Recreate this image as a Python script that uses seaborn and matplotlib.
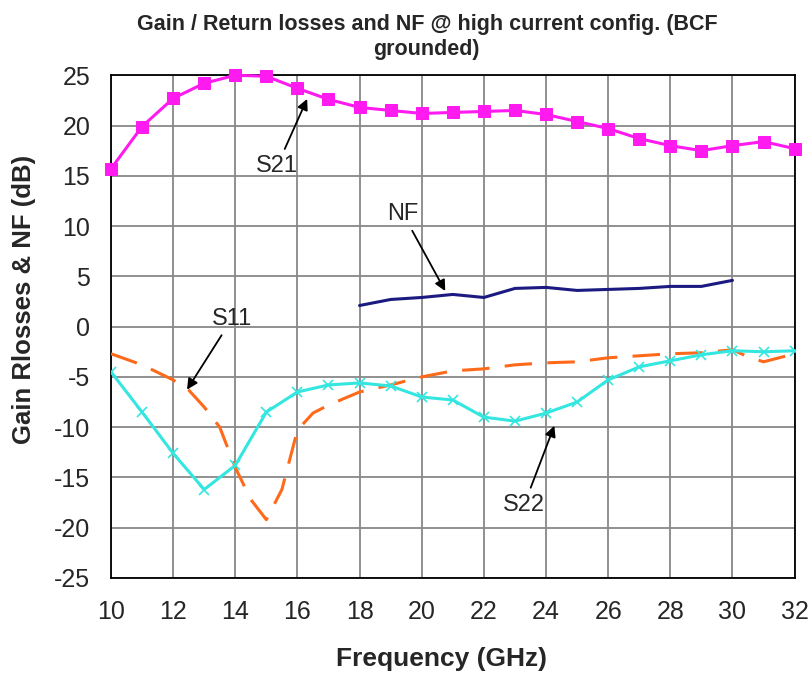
import numpy as np
import pandas as pd
import matplotlib
matplotlib.use("Agg")
import matplotlib.pyplot as plt
import seaborn as sns

# values
freq_s21 = [10, 11, 12, 13, 14, 15, 16, 17, 18, 19, 20, 21, 22, 23, 24, 25, 26, 27, 28, 29, 30, 31, 32]
s21 = [15.7, 19.9, 22.7, 24.2, 25.0, 24.9, 23.7, 22.6, 21.8, 21.5, 21.2, 21.3, 21.4, 21.5, 21.1, 20.4,
       19.7, 18.7, 18.0, 17.5, 18.0, 18.4, 17.7]

freq_s22 = [10, 11, 12, 13, 14, 15, 16, 17, 18, 19, 20, 21, 22, 23, 24, 25, 26, 27, 28, 29, 30, 31, 32]
s22 = [-4.5, -8.5, -12.6, -16.2, -13.8, -8.5, -6.5, -5.8, -5.6, -5.9, -7.0, -7.3, -9.0, -9.4, -8.6, -7.5,
       -5.3, -4.0, -3.4, -2.8, -2.4, -2.5, -2.4]

freq_s11 = [10, 11, 12, 12.5, 13, 13.5, 14, 14.5, 15, 15.5, 16, 16.5, 17, 18, 19, 20, 21, 22, 23, 24, 25,
            26, 27, 28, 29, 30, 30.5, 31, 32]
s11 = [-2.7, -3.8, -5.3, -6.3, -8.0, -10.0, -14.0, -17.2, -19.2, -16.2, -10.3, -8.6, -7.8, -6.5, -5.8,
       -5.0, -4.4, -4.2, -3.8, -3.6, -3.5, -3.1, -2.9, -2.7, -2.6, -2.3, -3.0, -3.5, -2.7]

freq_nf = [18, 19, 20, 21, 22, 23, 24, 25, 26, 27, 28, 29, 30]
nf = [2.1, 2.7, 2.9, 3.2, 2.9, 3.8, 3.9, 3.6, 3.7, 3.8, 4.0, 4.0, 4.6]

x_ticks = [10, 12, 14, 16, 18, 20, 22, 24, 26, 28, 30, 32]
y_ticks = [-25, -20, -15, -10, -5, 0, 5, 10, 15, 20, 25]

sns.set_style("white")
plt.rcParams['font.family'] = ['Liberation Sans', 'DejaVu Sans']
plt.rcParams['axes.unicode_minus'] = False

fig = plt.figure(figsize=(8.1, 6.78), dpi=100)
ax = fig.add_axes([0.137, 0.1475, 0.844, 0.7415])

df_s21 = pd.DataFrame({'f': freq_s21, 'v': s21})
df_s22 = pd.DataFrame({'f': freq_s22, 'v': s22})
df_s11 = pd.DataFrame({'f': freq_s11, 'v': s11})
df_nf = pd.DataFrame({'f': freq_nf, 'v': nf})

sns.lineplot(x='f', y='v', data=df_s11, ax=ax, color='#FF6A1A', linewidth=2.2, zorder=3)
ax.lines[-1].set_dashes([9, 5])
sns.lineplot(x='f', y='v', data=df_s22, ax=ax, color='#33E6E0', linewidth=2.2,
             marker='x', markersize=7, markeredgewidth=1.2, markeredgecolor='#33E6E0', zorder=4)
sns.lineplot(x='f', y='v', data=df_nf, ax=ax, color='#1A1A80', linewidth=2.2, zorder=4)
sns.lineplot(x='f', y='v', data=df_s21, ax=ax, color='#FF1AF0', linewidth=2.2,
             marker='s', markersize=8.5, markeredgecolor='#FF1AF0', zorder=5, clip_on=False)

ax.set_xlim(10, 32)
ax.set_ylim(-25, 25)
ax.set_xticks(x_ticks)
ax.set_yticks(y_ticks)
ax.grid(True, color='#888888', linewidth=1.3)
ax.set_axisbelow(True)
for s in ax.spines.values():
    s.set_color('black')
    s.set_linewidth(1.3)
ax.tick_params(axis='both', labelsize=18, length=0)
ax.tick_params(axis='x', pad=16)
ax.tick_params(axis='y', pad=15)

ax.set_xlabel('Frequency (GHz)', fontsize=19, fontweight='bold')
ax.xaxis.set_label_coords(0.484, -0.137)
ax.set_ylabel('Gain Rlosses & NF (dB)', fontsize=18.5, fontweight='bold')
ax.yaxis.set_label_coords(-0.11, 0.555)
fig.text(0.527, 0.979, 'Gain / Return losses and NF @ high current config. (BCF\ngrounded)',
         fontsize=15.5, fontweight='bold', ha='center', va='top', linespacing=1.25)

arrow = dict(arrowstyle='-|>', color='black', lw=1.3, mutation_scale=16)
ax.annotate('S21', xy=(16.35, 22.9), xytext=(15.35, 16.0), fontsize=17, ha='center', va='center',
            arrowprops=arrow)
ax.annotate('NF', xy=(20.8, 3.3), xytext=(19.4, 11.2), fontsize=17, ha='center', va='center',
            arrowprops=arrow)
ax.annotate('S11', xy=(12.4, -6.5), xytext=(13.9, 0.8), fontsize=17, ha='center', va='center',
            arrowprops=arrow)
ax.annotate('S22', xy=(24.3, -9.6), xytext=(23.3, -17.7), fontsize=17, ha='center', va='center',
            arrowprops=arrow)

plt.savefig('out.png', dpi=100)
